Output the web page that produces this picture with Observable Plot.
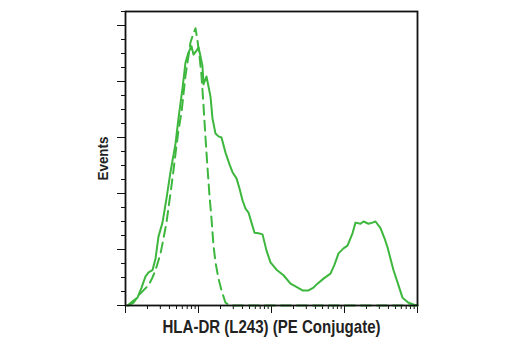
<!DOCTYPE html>
<html>
<head>
<meta charset="utf-8">
<script src="https://cdn.jsdelivr.net/npm/d3@7"></script>
<script src="https://cdn.jsdelivr.net/npm/@observablehq/plot@0.6"></script>
<style>
  html, body { margin: 0; padding: 0; background: #fff; }
</style>
</head>
<body>
<div id="chart"></div>
<script>
// Solid curve: HLA-DR (L243) PE stained sample
const sampleX = [10.65, 12.9, 14.6, 16.6, 18.8, 20.7, 23.4, 25.8, 28.3, 32.1, 36.4, 41.3, 48.4, 53.2, 60.4, 66.4, 73.0, 80.2, 85.4, 93.9, 100, 106.5, 113.4, 117.1, 128.7, 137.1, 146.0, 155.5, 171.0, 187.9, 206.5, 234.4, 265.9, 292.3, 331.6, 364.5, 400.6, 440.4, 484.2, 532.1, 585.1, 663.7, 753.6, 854.1, 969, 1171, 1460, 1821, 2133, 2659, 3213, 3762, 4267, 5156, 6427, 7296, 8279, 9690, 10990, 12870, 14150, 16560, 18200, 21330, 24190, 26590, 31120, 35320, 38820, 46910, 54950, 62300, 75300, 88100, 100000];
const sampleY = [0, 0.09, 0.14, 0.32, 0.52, 0.59, 0.63, 0.84, 1.23, 1.48, 1.91, 2.38, 2.89, 3.34, 3.88, 4.34, 4.52, 4.63, 4.48, 4.55, 4.61, 4.45, 4.27, 3.95, 4.09, 3.91, 3.73, 3.34, 3.07, 3.02, 3.00, 2.73, 2.52, 2.38, 2.27, 2.09, 1.88, 1.73, 1.66, 1.48, 1.30, 1.29, 1.27, 0.98, 0.77, 0.64, 0.54, 0.39, 0.34, 0.27, 0.27, 0.32, 0.39, 0.48, 0.57, 0.73, 0.93, 1.02, 1.07, 1.29, 1.48, 1.46, 1.50, 1.46, 1.48, 1.50, 1.38, 1.20, 1.04, 0.63, 0.36, 0.14, 0.05, 0.02, 0];

// Dashed curve: isotype control
const controlX = [11.0, 12.9, 15.1, 17.6, 20.7, 23.4, 25.8, 30.2, 33.2, 36.4, 41.3, 45.4, 48.4, 53.2, 58.5, 66.4, 73.0, 77.7, 85.4, 91.0, 96.9, 103.2, 109.9, 117.1, 124.7, 132.8, 141.5, 150.7, 160.5, 171.0, 187.9, 206.5, 234.4, 274.4, 100000];
const controlY = [0, 0.05, 0.18, 0.27, 0.36, 0.50, 0.63, 0.93, 1.20, 1.48, 2.00, 2.41, 2.71, 3.13, 3.45, 4.11, 4.46, 4.70, 4.86, 4.95, 4.73, 4.46, 4.11, 3.57, 3.00, 2.46, 1.96, 1.55, 1.07, 0.77, 0.48, 0.27, 0.05, 0, 0];

const xMajorTicks = [10, 100, 1000, 10000, 100000];
const xMinorTicks = [20, 30, 40, 50, 60, 70, 80, 90, 200, 300, 400, 500, 600, 700, 800, 900, 2000, 3000, 4000, 5000, 6000, 7000, 8000, 9000, 20000, 30000, 40000, 50000, 60000, 70000, 80000, 90000];
const yMajorTicks = [0, 1, 2, 3, 4, 5];
const yMinorTicks = [0.25, 0.5, 0.75, 1.25, 1.5, 1.75, 2.25, 2.5, 2.75, 3.25, 3.5, 3.75, 4.25, 4.5, 4.75, 5.25];

const xLabel = "HLA-DR (L243) (PE Conjugate)";
const yLabel = "Events";

const sample = sampleX.map((x, i) => ({x, y: sampleY[i]}));
const control = controlX.map((x, i) => ({x, y: controlY[i]}));

const green = "#3db73d";
const font = "'Liberation Sans', Arial, sans-serif";

const chart = Plot.plot({
  width: 520,
  height: 350,
  marginLeft: 125,
  marginRight: 103,
  marginTop: 11,
  marginBottom: 45,
  style: {fontFamily: font, background: "#fff", overflow: "visible"},
  x: {type: "log", domain: [10, 100000]},
  y: {domain: [0, 5.25]},
  marks: [
    Plot.axisX({ticks: xMajorTicks, tickSize: 8, tickFormat: () => "", tickWidth: 1.6, label: null, stroke: "#111"}),
    Plot.axisX({ticks: xMinorTicks, tickSize: 4, tickFormat: () => "", tickWidth: 1.2, label: null, stroke: "#111"}),
    Plot.axisY({ticks: yMajorTicks, tickSize: 8, tickFormat: () => "", tickWidth: 1.6, label: null, stroke: "#111"}),
    Plot.axisY({ticks: yMinorTicks, tickSize: 4, tickFormat: () => "", tickWidth: 1.2, label: null, stroke: "#111"}),
    Plot.line(control, {x: "x", y: "y", stroke: green, strokeWidth: 2, strokeDasharray: "10,6", curve: "linear"}),
    Plot.line(sample, {x: "x", y: "y", stroke: green, strokeWidth: 2, curve: "linear"}),
    Plot.frame({stroke: "#111", strokeWidth: 1.8}),
    Plot.text([xLabel], {frameAnchor: "bottom", dy: 21, lineAnchor: "middle", textAnchor: "middle", fontSize: 19, fontWeight: "bold", fill: "#222"}),
    Plot.text([yLabel], {frameAnchor: "left", dx: -22, rotate: -90, lineAnchor: "middle", textAnchor: "middle", fontSize: 15, fontWeight: "bold", fill: "#222"})
  ]
});
// Condense the bold labels to mimic the reference's condensed typeface
const condensedWidths = {[xLabel]: 218, [yLabel]: 44};
chart.querySelectorAll('g[aria-label="text"] text').forEach((t) => {
  const w = condensedWidths[t.textContent];
  if (w) {
    t.setAttribute("textLength", w);
    t.setAttribute("lengthAdjust", "spacingAndGlyphs");
  }
});
document.getElementById("chart").appendChild(chart);
</script>
</body>
</html>
